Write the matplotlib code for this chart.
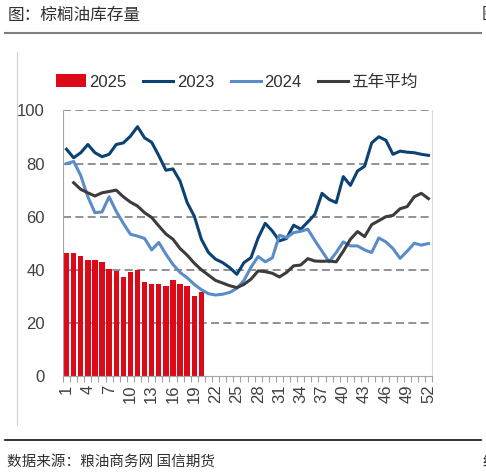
import numpy as np
import matplotlib
matplotlib.use("Agg")
import matplotlib.pyplot as plt
from matplotlib.lines import Line2D
from matplotlib.patches import Patch

plt.rcParams['font.family'] = ['Liberation Sans', 'Noto Sans CJK SC', 'DejaVu Sans']

# weekly palm oil stocks (week 1..52)
weeks = list(range(1, 53))
stock_2025 = [46.4, 46.4, 45.2, 43.6, 43.6, 43.0, 40.2, 39.6, 37.1, 39.0,
              40.0, 35.5, 34.8, 34.6, 34.0, 36.2, 34.8, 34.0, 30.2, 31.5]
stock_2023 = [85.4, 82.2, 84.1, 87.2, 84.1, 82.6, 83.5, 87.2, 87.8, 90.3,
              93.9, 89.7, 88.0, 83.0, 77.5, 78.0, 73.4, 65.3, 60.2, 51.5,
              46.5, 44.0, 42.7, 40.8, 38.3, 42.7, 44.6, 52.0, 57.5, 54.6,
              50.9, 51.8, 56.8, 55.3, 58.0, 60.9, 68.8, 66.5, 65.3, 75.1,
              71.8, 77.2, 79.0, 87.8, 90.1, 88.8, 83.5, 84.7, 84.3, 84.1,
              83.5, 83.1]
stock_2024 = [80.0, 80.8, 75.5, 67.5, 61.5, 61.8, 67.5, 62.0, 57.5, 53.4,
              52.7, 51.8, 47.5, 50.3, 45.9, 42.0, 39.0, 37.0, 34.5, 32.5,
              31.0, 30.5, 30.8, 31.5, 33.0, 36.0, 41.0, 45.0, 43.0, 44.5,
              53.0, 52.1, 54.0, 54.5, 55.3, 51.0, 47.0, 43.0, 46.5, 50.5,
              49.0, 49.0, 47.5, 46.5, 52.0, 50.5, 48.0, 44.3, 47.0, 50.0,
              49.3, 49.9]
avg_5yr = [np.nan, 72.8, 70.3, 69.0, 67.8, 69.0, 69.5, 70.0, 67.5, 65.5,
           64.0, 61.5, 59.7, 56.5, 53.5, 51.5, 48.0, 45.5, 42.5, 40.0,
           38.0, 36.0, 35.0, 34.0, 33.3, 34.5, 36.5, 39.6, 39.3, 38.7,
           37.3, 39.0, 41.5, 41.8, 44.2, 43.3, 43.2, 43.3, 43.0, 47.0,
           51.5, 54.4, 52.5, 57.0, 58.5, 60.0, 60.5, 63.0, 63.8, 67.5,
           68.8, 66.8]
series_names = ['2025', '2023', '2024', '五年平均']
y_ticks = [0, 20, 40, 60, 80, 100]

c_2025 = '#dc0a18'
c_2023 = '#0c4273'
c_2024 = '#5b8cc8'
c_avg = '#3c3c3c'

fig = plt.figure(figsize=(4.86, 4.73), dpi=100)
ax = fig.add_axes([63 / 486, 1 - 376 / 473, (432 - 63) / 486, (376 - 110.5) / 473])

ax.bar(weeks[:len(stock_2025)], stock_2025, width=0.76, color=c_2025, zorder=2)
ax.plot(weeks, stock_2023, color=c_2023, lw=2.2, zorder=3)
ax.plot(weeks, stock_2024, color=c_2024, lw=2.2, zorder=3)
ax.plot(weeks, avg_5yr, color=c_avg, lw=2.2, zorder=3)

ax.set_xlim(0.5, 52.5)
ax.set_ylim(0, 100)
ax.set_yticks(y_ticks)
ax.set_yticklabels([str(v) for v in y_ticks])
ax.set_xticks(weeks[::3])
ax.set_xticklabels([str(w) for w in weeks[::3]], rotation=90)
ax.set_xticks([w + 0.5 for w in range(0, 53)], minor=True)
ax.tick_params(axis='y', length=0, pad=13, labelsize=12, labelcolor='#404040')
ax.tick_params(axis='x', which='major', length=0, pad=6, labelsize=12, labelcolor='#404040')
ax.tick_params(axis='x', which='minor', length=4, width=0.8, color='#a0a0a0', direction='out')

for v in y_ticks[1:]:
    ax.axhline(v, color='#7f7f7f', lw=1.2, ls=(0, (4.8, 2.6)), zorder=1)

ax.spines['top'].set_visible(False)
ax.spines['left'].set_color('#a6a6a6')
ax.spines['bottom'].set_color('#a6a6a6')
ax.spines['right'].set_color('#d9d9d9')

handles = [Patch(facecolor=c_2025, edgecolor='none'),
           Line2D([], [], color=c_2023, lw=2.2),
           Line2D([], [], color=c_2024, lw=2.2),
           Line2D([], [], color=c_avg, lw=2.2)]
fig.legend(handles, series_names, loc='center', bbox_to_anchor=(237 / 486, 1 - 82 / 473),
           ncol=4, frameon=False, fontsize=12, handlelength=1.8, handleheight=0.8,
           handletextpad=0.2, columnspacing=1.0, labelcolor='#303030')

# header, footer and frame lines
fig.text(8 / 486, 1 - 15 / 473, '图：棕榈油库存量', fontsize=12, color='#303030',
         va='center', ha='left', family=['Noto Sans CJK SC'])
fig.text(0.992, 1 - 15 / 473, '图', fontsize=12, color='#303030',
         va='center', ha='left', family=['Noto Sans CJK SC'])
fig.add_artist(Line2D([5 / 486, 481 / 486], [1 - 33 / 473] * 2, color='#7f7f7f', lw=1.5))
fig.add_artist(Line2D([17 / 486, 17 / 486], [1 - 52 / 473, 1 - 425 / 473], color='#d0d0d0', lw=0.8))
fig.add_artist(Line2D([5 / 486, 481 / 486], [1 - 440 / 473] * 2, color='#111111', lw=1.2))
fig.text(7 / 486, 1 - 462 / 473, '数据来源：粮油商务网 国信期货', fontsize=10.5, color='#303030',
         va='center', ha='left', family=['Noto Sans CJK SC'])
fig.text(0.992, 1 - 462 / 473, '经', fontsize=10.5, color='#303030',
         va='center', ha='left', family=['Noto Sans CJK SC'])

fig.savefig('out.png', dpi=100)
